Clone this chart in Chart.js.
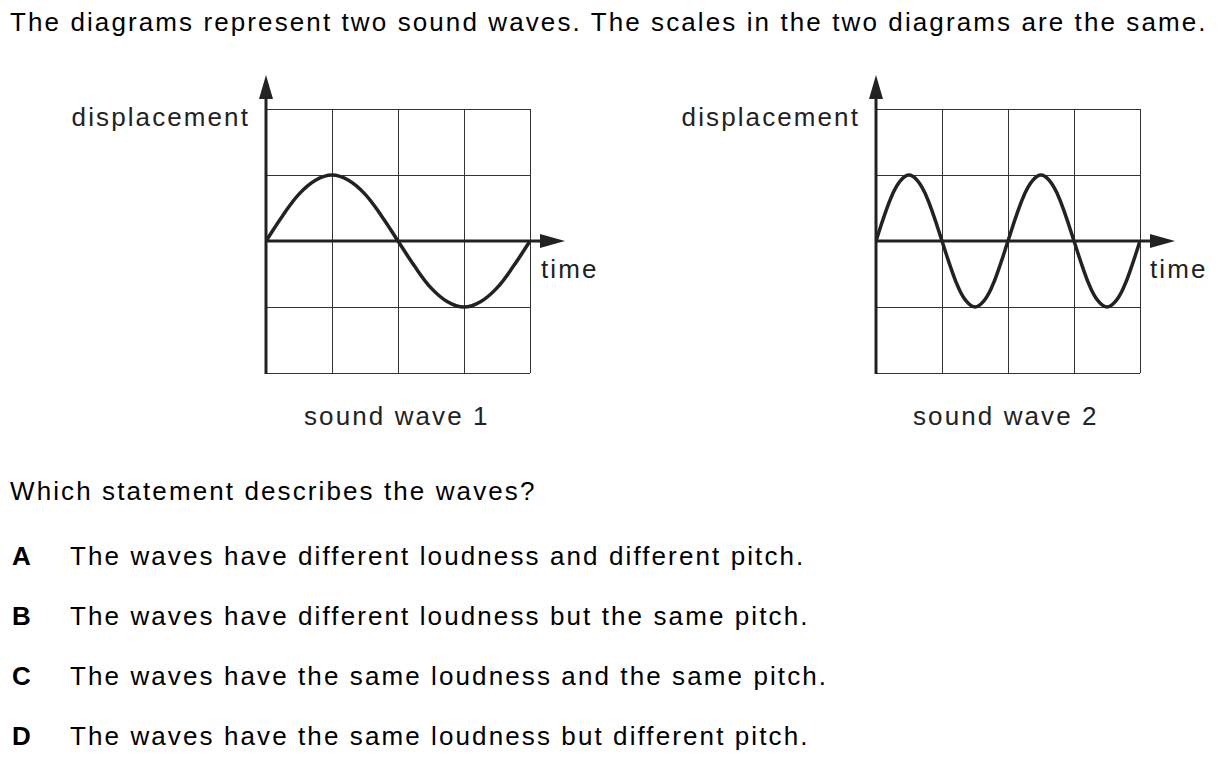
<!DOCTYPE html>
<html>
<head>
<meta charset="utf-8">
<script src="https://cdn.jsdelivr.net/npm/chart.js@4/dist/chart.umd.min.js"></script>
<style>
  body { margin: 0; background: #fff; width: 1219px; height: 763px; position: relative; overflow: hidden;
         font-family: "Liberation Sans", Arial, sans-serif; color: #000; }
  .t { position: absolute; white-space: nowrap; font-size: 26px; line-height: 26px; letter-spacing: 2.1px; }
  .lbl { color: #222; }
  canvas { position: absolute; }
  b { position: absolute; left: 12px; letter-spacing: 0; }
  .opt span { position: absolute; left: 70px; }
</style>
</head>
<body>
<div class="t" style="left:10px; top:9px;">The diagrams represent two sound waves. The scales in the two diagrams are the same.</div>

<div class="t lbl" style="right:969px; top:104px;">displacement</div>
<div class="t lbl" style="left:541px; top:256px;">time</div>
<div class="t lbl" style="left:304px; top:403px;">sound wave 1</div>

<div class="t lbl" style="right:359px; top:104px;">displacement</div>
<div class="t lbl" style="left:1150px; top:256px;">time</div>
<div class="t lbl" style="left:913px; top:403px;">sound wave 2</div>

<div class="t" style="left:10px; top:478px;">Which statement describes the waves?</div>
<div class="t opt" style="left:0; top:543px; width:1px;"><b>A</b><span>The waves have different loudness and different pitch.</span></div>
<div class="t opt" style="left:0; top:603px; width:1px;"><b>B</b><span>The waves have different loudness but the same pitch.</span></div>
<div class="t opt" style="left:0; top:663px; width:1px;"><b>C</b><span>The waves have the same loudness and the same pitch.</span></div>
<div class="t opt" style="left:0; top:723px; width:1px;"><b>D</b><span>The waves have the same loudness but different pitch.</span></div>

<canvas id="wave1" width="330" height="330" style="left:250px; top:60px;"></canvas>
<canvas id="wave2" width="330" height="330" style="left:860px; top:60px;"></canvas>

<script>
// grid: 4 cells of time, 4 cells of displacement (-2..2)
const timeGrid = [0, 1, 2, 3, 4];
const dispGrid = [-2, -1, 0, 1, 2];

// sound wave 1: one cycle across the grid, amplitude one cell
const wave1Time = [0, 0.25, 0.5, 0.75, 1, 1.25, 1.5, 1.75, 2, 2.25, 2.5, 2.75, 3, 3.25, 3.5, 3.75, 4];
const wave1Disp = [0, 0.38, 0.71, 0.92, 1, 0.92, 0.71, 0.38, 0, -0.38, -0.71, -0.92, -1, -0.92, -0.71, -0.38, 0];

// sound wave 2: two cycles, same amplitude
const wave2Time = [0, 0.125, 0.25, 0.375, 0.5, 0.625, 0.75, 0.875, 1, 1.125, 1.25, 1.375, 1.5, 1.625, 1.75, 1.875,
                   2, 2.125, 2.25, 2.375, 2.5, 2.625, 2.75, 2.875, 3, 3.125, 3.25, 3.375, 3.5, 3.625, 3.75, 3.875, 4];
const wave2Disp = [0, 0.38, 0.71, 0.92, 1, 0.92, 0.71, 0.38, 0, -0.38, -0.71, -0.92, -1, -0.92, -0.71, -0.38,
                   0, 0.38, 0.71, 0.92, 1, 0.92, 0.71, 0.38, 0, -0.38, -0.71, -0.92, -1, -0.92, -0.71, -0.38, 0];

// thick axes with arrow heads
const arrowAxes = {
  id: 'arrowAxes',
  afterDatasetsDraw(chart) {
    const ctx = chart.ctx;
    const x = chart.scales.x, y = chart.scales.y;
    const x0 = x.getPixelForValue(0), y0 = y.getPixelForValue(0);
    const top = y.getPixelForValue(2), bottom = y.getPixelForValue(-2), right = x.getPixelForValue(4);
    ctx.save();
    ctx.strokeStyle = '#222';
    ctx.fillStyle = '#222';
    ctx.lineWidth = 3;
    ctx.beginPath();
    ctx.moveTo(x0, bottom + 1);
    ctx.lineTo(x0, top - 20);
    ctx.moveTo(x0, y0);
    ctx.lineTo(right + 20, y0);
    ctx.stroke();
    // up arrow
    ctx.beginPath();
    ctx.moveTo(x0, top - 34);
    ctx.lineTo(x0 - 7, top - 10);
    ctx.lineTo(x0 + 7, top - 10);
    ctx.closePath();
    ctx.fill();
    // right arrow
    ctx.beginPath();
    ctx.moveTo(right + 35, y0);
    ctx.lineTo(right + 10, y0 - 7);
    ctx.lineTo(right + 10, y0 + 7);
    ctx.closePath();
    ctx.fill();
    ctx.restore();
  }
};

function drawWave(id, times, disps, pad) {
  new Chart(document.getElementById(id), {
    type: 'line',
    data: {
      datasets: [{
        data: times.map((t, i) => ({ x: t, y: disps[i] })),
        borderColor: '#222',
        borderWidth: 3.5,
        pointRadius: 0,
        tension: 0.4,
        fill: false
      }]
    },
    options: {
      responsive: false,
      animation: false,
      devicePixelRatio: 1,
      layout: { padding: pad },
      plugins: { legend: { display: false }, tooltip: { enabled: false } },
      scales: {
        x: {
          type: 'linear', min: 0, max: 4,
          afterBuildTicks: s => { s.ticks = timeGrid.map(v => ({ value: v })); },
          ticks: { display: false },
          grid: { color: '#333', lineWidth: 1, drawTicks: false },
          border: { display: false }
        },
        y: {
          type: 'linear', min: -2, max: 2,
          afterBuildTicks: s => { s.ticks = dispGrid.map(v => ({ value: v })); },
          ticks: { display: false },
          grid: { color: '#333', lineWidth: 1, drawTicks: false },
          border: { display: false }
        }
      }
    },
    plugins: [arrowAxes]
  });
}

drawWave('wave1', wave1Time, wave1Disp, { left: 16, top: 49, right: 50, bottom: 17 });
drawWave('wave2', wave2Time, wave2Disp, { left: 16, top: 49, right: 50, bottom: 17 });
</script>
</body>
</html>
